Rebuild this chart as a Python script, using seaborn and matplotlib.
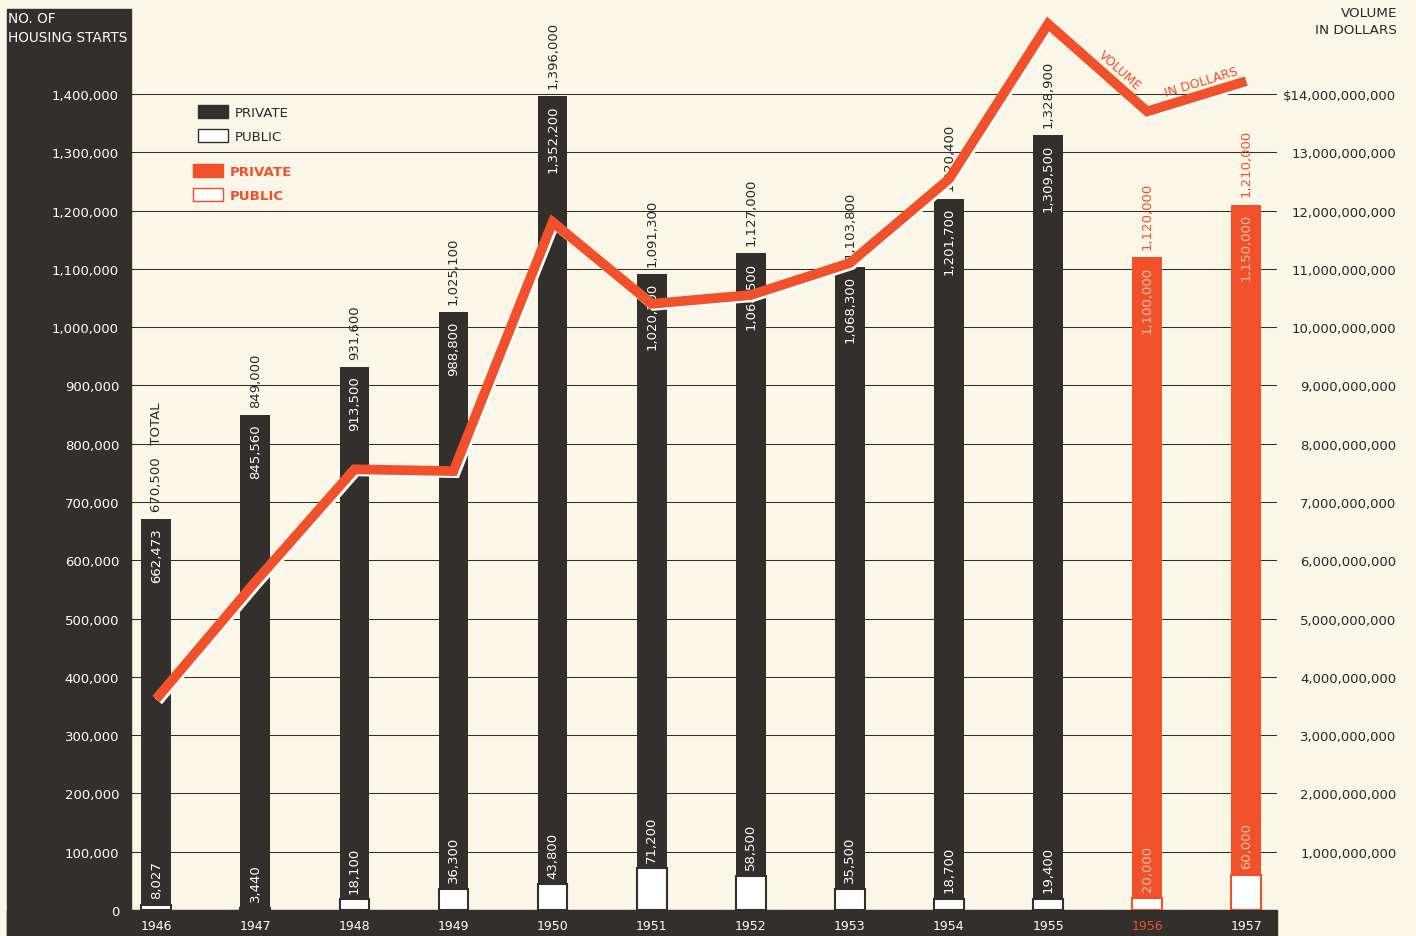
import numpy as np
import pandas as pd
import matplotlib
matplotlib.use("Agg")
import matplotlib.pyplot as plt
import matplotlib.patheffects as pe
from matplotlib.patches import Rectangle, Patch
import seaborn as sns

# ---- data ----
years = ["1946", "1947", "1948", "1949", "1950", "1951",
         "1952", "1953", "1954", "1955", "1956", "1957"]
private = [662473, 845560, 913500, 988800, 1352200, 1020100,
           1068500, 1068300, 1201700, 1309500, 1100000, 1150000]
public = [8027, 3440, 18100, 36300, 43800, 71200,
          58500, 35500, 18700, 19400, 20000, 60000]
total = [670500, 849000, 931600, 1025100, 1396000, 1091300,
         1127000, 1103800, 1220400, 1328900, 1120000, 1210000]
# volume in dollars, billions
volume_bn = [3.62, 5.63, 7.56, 7.53, 11.8, 10.4,
             10.55, 11.1, 12.54, 15.2, 13.7, 14.22]
estimate = ["1956", "1957"]

left_ticks = list(range(0, 1400001, 100000))
right_ticks = [v * 1e9 for v in range(1, 15)]

DARK = "#322f2d"
ORANGE = "#f1512a"
LIGHT = "#f8c2ab"
BG = "#faf6e8"
INK = "#2a2826"

sns.set_style("white")
plt.rcParams["font.family"] = ["DejaVu Sans"]

df = pd.DataFrame({"year": years, "private": private, "public": public,
                   "total": total, "volume": np.array(volume_bn) * 1e9})
bar_col = {y: (ORANGE if y in estimate else DARK) for y in years}

fig = plt.figure(figsize=(14.16, 9.37), dpi=100, facecolor=BG)
W, H = 1416, 937
ax = fig.add_axes([131 / W, 26 / H, (1277 - 131) / W, 911 / H])
ax.set_facecolor("none")

# dark panels
fig.patches.append(Rectangle((7 / W, 0), (131 - 7) / W, (937 - 10) / H,
                             transform=fig.transFigure, color=DARK, zorder=-1))
fig.patches.append(Rectangle((7 / W, 0), (1277 - 7) / W, 26 / H,
                             transform=fig.transFigure, color=DARK, zorder=-1))

# total bars then public part in white
sns.barplot(data=df, x="year", y="total", hue="year", palette=bar_col,
            width=0.3, saturation=1, linewidth=0, legend=False, ax=ax)
sns.barplot(data=df, x="year", y="public", hue="year",
            palette={y: "white" for y in years},
            width=0.3, saturation=1, legend=False, ax=ax)
for p, y in zip(ax.patches[len(years):], years):
    p.set_edgecolor(bar_col[y])
    p.set_linewidth(1.5)

ytop = 911 / 58.29 * 1e5
ax.set_ylim(0, ytop)
ax.set_xlim(-0.254, 11.31)
ax.set_yticks(left_ticks)
ax.set_yticklabels([f"{v:,}" for v in left_ticks])
ax.tick_params(axis="y", length=0, pad=8.6, labelsize=9.5, labelcolor="white")
ax.tick_params(axis="x", length=0, pad=6.8, labelsize=9)
for lbl, y in zip(ax.get_xticklabels(), years):
    lbl.set_color(ORANGE if y == "1956" else "white")
ax.yaxis.grid(True, color="#2f2c2a", lw=0.75)
ax.set_axisbelow(True)
ax.set_xlabel("")
ax.set_ylabel("")
sns.despine(ax=ax, left=True, bottom=True)

# bar labels
for i, y in enumerate(years):
    est = y in estimate
    top_txt = f"{total[i]:,}" + ("   TOTAL" if i == 0 else "")
    ax.annotate(top_txt, (i, total[i]), xytext=(0, 6), textcoords="offset points",
                rotation=90, ha="center", va="bottom", fontsize=9.5,
                color=ORANGE if est else INK)
    ax.annotate(f"{private[i]:,}", (i, total[i]), xytext=(0, -6),
                textcoords="offset points", rotation=90, ha="center", va="top",
                fontsize=9.5, color=LIGHT if est else "white")
    ax.annotate(f"{public[i]:,}", (i, public[i]), xytext=(0, 5),
                textcoords="offset points", rotation=90, ha="center",
                va="bottom", fontsize=9.5, color=LIGHT if est else "white")

# volume line on right axis
ax2 = ax.twinx()
ax2.set_ylim(0, ytop * 10000)
sns.lineplot(x=np.arange(len(years)), y=df["volume"], ax=ax2, color=ORANGE,
             lw=7, solid_joinstyle="miter", solid_capstyle="butt")
ax2.lines[0].set_path_effects([
    pe.SimpleLineShadow(offset=(1.5, -1.5), shadow_color="white", alpha=1),
    pe.Normal()])
ax2.set_yticks(right_ticks)
ax2.set_yticklabels([("$" if v == right_ticks[-1] else "") + f"{int(v):,}"
                     for v in right_ticks])
ax2.tick_params(axis="y", length=0, pad=86, labelsize=9.5, labelcolor=INK)
plt.setp(ax2.get_yticklabels(), ha="right")
ax2.set_ylabel("")
ax2.set_xlabel("")
sns.despine(ax=ax2, left=True, bottom=True, right=True)

ax2.text(9.72, 14.42e9, "VOLUME", rotation=-42, color=ORANGE, fontsize=9,
         ha="center", va="center")
ax2.text(10.55, 14.22e9, "IN DOLLARS", rotation=17, color=ORANGE, fontsize=9,
         ha="center", va="center")

# headers
fig.text(8 / W, 1 - 12 / H, "NO. OF\nHOUSING STARTS", color="white",
         fontsize=9.8, ha="left", va="top", linespacing=1.45)
fig.text(1397 / W, 1 - 7 / H, "VOLUME\nIN DOLLARS", color=INK, fontsize=9.7,
         ha="right", va="top", multialignment="right", linespacing=1.35)

# legends
leg_kw = dict(loc="upper left", frameon=False, borderpad=0, borderaxespad=0,
              fontsize=9.6, handlelength=2.25, handleheight=1.1,
              handletextpad=0.5, labelspacing=0.75)
fig.legend(handles=[Patch(facecolor=DARK, edgecolor=DARK),
                    Patch(facecolor="white", edgecolor=DARK)],
           labels=["PRIVATE", "PUBLIC"], labelcolor=INK,
           bbox_to_anchor=(198 / W, 1 - 106 / H), **leg_kw)
fig.legend(handles=[Patch(facecolor=ORANGE, edgecolor=ORANGE),
                    Patch(facecolor="white", edgecolor=ORANGE)],
           labels=["PRIVATE", "PUBLIC"], labelcolor=ORANGE,
           prop={"weight": "bold", "size": 9.6},
           bbox_to_anchor=(193 / W, 1 - 165 / H),
           **{k: v for k, v in leg_kw.items() if k != "fontsize"})

fig.savefig("out.png", dpi=100, facecolor=BG)
